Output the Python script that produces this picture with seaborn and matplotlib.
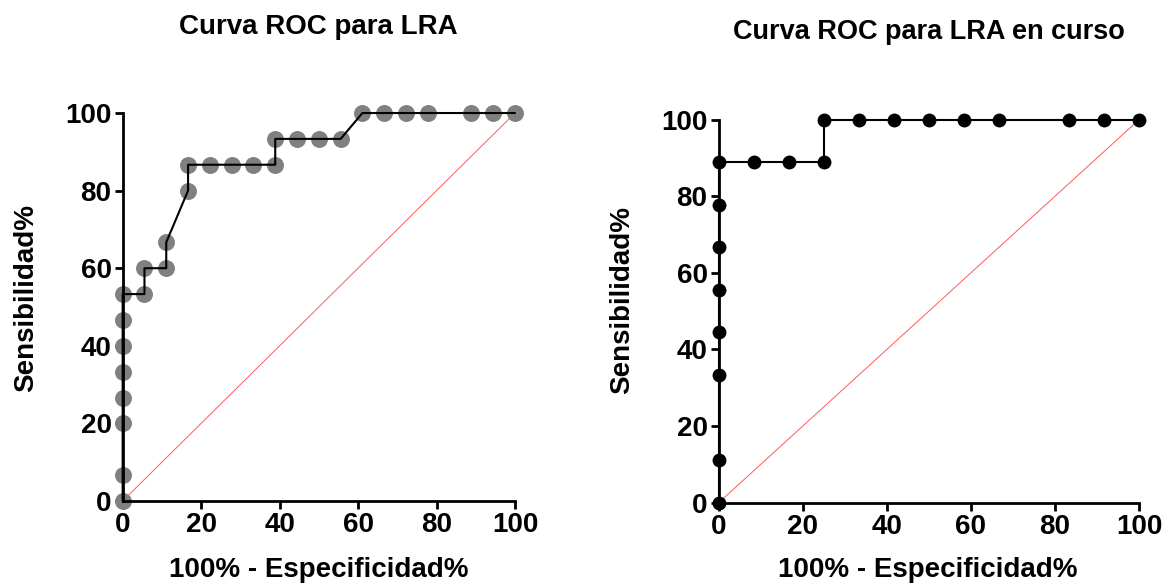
import matplotlib
matplotlib.use("Agg")
import matplotlib.pyplot as plt
import seaborn as sns
import pandas as pd

# Left: Curva ROC para LRA
lra_fpr = [0, 0, 0, 0, 0, 0, 0, 0, 5.56, 5.56, 11.11, 11.11, 16.67, 16.67, 22.22, 27.78,
           33.33, 38.89, 38.89, 44.44, 50.0, 55.56, 61.11, 66.67, 72.22, 77.78, 88.89, 94.44, 100]
lra_tpr = [0, 6.67, 20.0, 26.67, 33.33, 40.0, 46.67, 53.33, 53.33, 60.0, 60.0, 66.67, 80.0, 86.67,
           86.67, 86.67, 86.67, 86.67, 93.33, 93.33, 93.33, 93.33, 100, 100, 100, 100, 100, 100, 100]

# Right: Curva ROC para LRA en curso
curso_fpr = [0, 0, 0, 0, 0, 0, 0, 0, 8.33, 16.67, 25.0, 25.0, 33.33, 41.67, 50.0, 58.33,
             66.67, 83.33, 91.67, 100]
curso_tpr = [0, 11.11, 33.33, 44.44, 55.56, 66.67, 77.78, 88.89, 88.89, 88.89, 88.89, 100,
             100, 100, 100, 100, 100, 100, 100, 100]

ref_line = [0, 100]
ticks = [0, 20, 40, 60, 80, 100]

titles = ["Curva ROC para LRA", "Curva ROC para LRA en curso"]
xlabel = "100% - Especificidad%"
ylabel = "Sensibilidad%"

sns.set_style("ticks")
plt.rcParams["font.family"] = ["Liberation Sans", "DejaVu Sans"]
plt.rcParams["font.weight"] = "bold"
for k in ["text.color", "axes.labelcolor", "xtick.color", "ytick.color", "axes.edgecolor"]:
    plt.rcParams[k] = "black"

fig = plt.figure(figsize=(11.67, 5.85), dpi=100)
ax1 = fig.add_axes([0.1051, 0.1436, 0.3362, 0.6632])
ax2 = fig.add_axes([0.6158, 0.1407, 0.3602, 0.6547])

panels = [
    (ax1, lra_fpr, lra_tpr, "#808080", 12.2),
    (ax2, curso_fpr, curso_tpr, "black", 10),
]

for ax, xs, ys, mcol, msize in panels:
    df = pd.DataFrame({"x": xs, "y": ys})
    ref = pd.DataFrame({"x": ref_line, "y": ref_line})
    sns.lineplot(data=ref, x="x", y="y", ax=ax, color="#ff5a5a", linewidth=0.7,
                 sort=False, estimator=None, errorbar=None, zorder=2, clip_on=False)
    ax.plot(df["x"], df["y"], linestyle="none", marker="o", markersize=msize,
            markerfacecolor=mcol, markeredgecolor="none", zorder=3, clip_on=False)
    sns.lineplot(data=df, x="x", y="y", ax=ax, color="black", linewidth=1.5,
                 sort=False, estimator=None, errorbar=None, zorder=4, clip_on=False)
    ax.set_xlim(0, 100)
    ax.set_ylim(0, 100)
    ax.set_xticks(ticks)
    ax.set_yticks(ticks)
    ax.set_xlabel("")
    ax.set_ylabel("")
    for s in ["top", "right"]:
        ax.spines[s].set_visible(False)
    for s in ["left", "bottom"]:
        ax.spines[s].set_linewidth(2.0)
        ax.spines[s].set_zorder(5)
    ax.tick_params(axis="both", length=6, width=2.0, labelsize=20, pad=2, colors="black")
    for lab in ax.get_xticklabels() + ax.get_yticklabels():
        lab.set_fontweight("bold")

fig.text(318.5 / 1167, 1 - 27 / 585, titles[0], ha="center", va="center",
         fontsize=20, fontweight="bold")
fig.text(929 / 1167, 1 - 32 / 585, titles[1], ha="center", va="center",
         fontsize=19.5, fontweight="bold")
fig.text(319 / 1167, 1 - 570 / 585, xlabel, ha="center", va="center",
         fontsize=20, fontweight="bold")
fig.text(928 / 1167, 1 - 570 / 585, xlabel, ha="center", va="center",
         fontsize=20, fontweight="bold")
fig.text(26 / 1167, 1 - 298 / 585, ylabel, ha="center", va="center",
         rotation=90, fontsize=20, fontweight="bold")
fig.text(622 / 1167, 1 - 300 / 585, ylabel, ha="center", va="center",
         rotation=90, fontsize=20, fontweight="bold")

fig.savefig("out.png", dpi=100)
